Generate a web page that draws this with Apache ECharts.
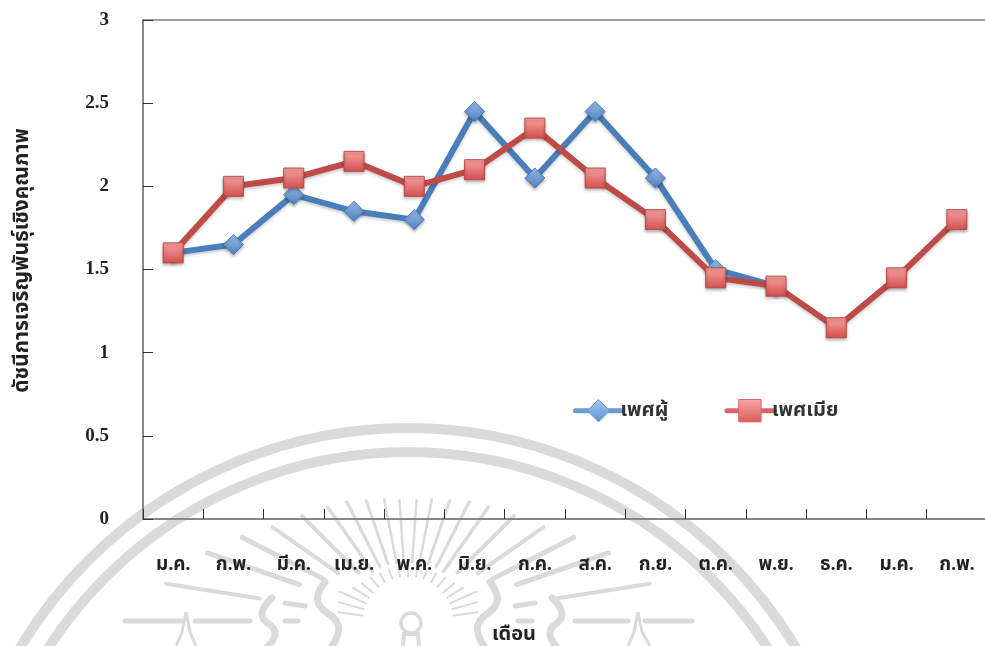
<!DOCTYPE html>
<html><head><meta charset="utf-8">
<style>html,body{margin:0;padding:0;background:#fff}#c{width:985px;height:646px}</style>
<script src="https://cdn.jsdelivr.net/npm/echarts@6/dist/echarts.min.js"></script>
</head><body><div id="c"></div>
<script>
const categories = ['ม.ค.','ก.พ.','มี.ค.','เม.ย.','พ.ค.','มิ.ย.','ก.ค.','ส.ค.','ก.ย.','ต.ค.','พ.ย.','ธ.ค.','ม.ค.','ก.พ.'];
const maleValues = [1.6,1.65,1.95,1.85,1.8,2.45,2.05,2.45,2.05,1.5,1.4,null,null,null];
const femaleValues = [1.6,2.0,2.05,2.15,2.0,2.1,2.35,2.05,1.8,1.45,1.4,1.15,1.45,1.8];
const maleName = 'เพศผู้';
const femaleName = 'เพศเมีย';
const xTitle = 'เดือน';
const yTitle = 'ดัชนีการเจริญพันธุ์เชิงคุณภาพ';

const FONT = '"Liberation Serif","Noto Sans Thai","Noto Serif Thai",serif';
const WM = '#dadada';
const G = echarts.graphic;

// Decorative seal watermark behind the chart
const wm = [];
const CX = 408, CY = 880;
[[452,10],[428,10]].forEach(([r,w]) => wm.push({type:'circle',silent:true,z:-1,
  shape:{cx:CX,cy:CY,r},style:{fill:'none',stroke:WM,lineWidth:w}}));
const SX = 408, SY = 622;
function ray(deg, r0, r1, w){
  const a = deg*Math.PI/180;
  wm.push({type:'line',silent:true,z:-1,
    shape:{x1:SX+r0*Math.cos(a),y1:SY-r0*Math.sin(a),x2:SX+r1*Math.cos(a),y2:SY-r1*Math.sin(a)},
    style:{stroke:WM,lineWidth:w,lineCap:'round'}});
}
[[9,150,245,4],[19,115,212,5],[27,95,186,5],[35,85,165,4],[45,70,150,4],[55,62,140,3.5],[63,62,135,3],[71,62,128,3],[79,60,125,2.5],[86,60,122,2.5]].forEach(([d,a,b,w])=>{
  ray(d,a,b,w); ray(180-d,a,b,w);
});
[[8,46,70],[16,46,72],[24,46,75],[32,46,65],[40,46,60],[50,46,58],[60,46,56],[70,46,56],[80,46,56],[90,46,56]].forEach(([d,a,b])=>{
  ray(d,a,b,2); ray(180-d,a,b,2);
});
wm.push({type:'circle',silent:true,z:-1,shape:{cx:411,cy:623,r:10},style:{fill:'none',stroke:WM,lineWidth:3.5}});
wm.push({type:'polyline',silent:true,z:-1,shape:{points:[[403,646],[404,634],[418,634],[419,646]]},style:{fill:'none',stroke:WM,lineWidth:4}});
[[[125,621],[182,621]],[[195,621],[250,621]],[[285,621],[298,621]],[[575,621],[628,621]],[[645,621],[692,621]],[[518,621],[532,621]],[[285,603],[305,606]],[[515,606],[535,603]]].forEach(p=>{
  wm.push({type:'polyline',silent:true,z:-1,shape:{points:p},style:{fill:'none',stroke:WM,lineWidth:5,lineCap:'round'}});
});
[[[186,612],[182,632],[176,646]],[[186,612],[190,632],[196,646]],[[638,612],[634,632],[628,646]],[[638,612],[642,632],[650,646]]].forEach(p=>{
  wm.push({type:'polyline',silent:true,z:-1,shape:{points:p},style:{fill:'none',stroke:WM,lineWidth:3}});
});
[[[272,598],[262,615],[275,632],[268,646]],[[325,582],[318,602],[338,625],[332,646]],[[490,582],[497,602],[478,625],[484,646]],[[552,598],[562,615],[550,632],[556,646]]].forEach(p=>{
  wm.push({type:'polyline',silent:true,z:-1,shape:{points:p,smooth:0.5},style:{fill:'none',stroke:WM,lineWidth:7,lineCap:'round'}});
});

const grad = (a,b) => new G.LinearGradient(0,0,0,1,[{offset:0,color:a},{offset:1,color:b}]);
const chart = echarts.init(document.getElementById('c'),null,{renderer:'canvas'});
chart.setOption({
  animation:false,
  backgroundColor:'#fff',
  graphic:{elements:wm},
  grid:{left:143,right:-2,top:20,bottom:127,outerBoundsMode:'none',show:true,borderColor:'#808080',borderWidth:1.5,backgroundColor:'transparent'},
  legend:{
    left:568,top:394,itemWidth:46,itemHeight:28,itemGap:56,
    textStyle:{fontFamily:FONT,fontWeight:'bold',fontSize:20,color:'#333',padding:[0,0,0,-6]},
    data:[
      {name:maleName,lineStyle:{color:'#6A9AD0',width:5,cap:'round'},itemStyle:{color:grad('#A6C8F2','#5C90D0'),borderColor:'#6A9AD0',borderWidth:1}},
      {name:femaleName,lineStyle:{color:'#D46A68',width:5,cap:'round'},itemStyle:{color:grad('#F9A8A6','#D85C5A'),borderColor:'#D46A68',borderWidth:1}}
    ]
  },
  xAxis:{
    type:'category',data:categories,
    name:xTitle,nameLocation:'middle',nameGap:106,
    nameTextStyle:{fontFamily:FONT,fontWeight:'bold',fontSize:20,color:'#222',padding:[0,102,0,0]},
    axisLine:{lineStyle:{color:'#808080',width:1.5}},
    axisTick:{show:true,inside:true,length:10,lineStyle:{color:'#333',width:1}},
    axisLabel:{fontFamily:FONT,fontWeight:'bold',fontSize:19,color:'#222',margin:37,interval:0},
    splitLine:{show:false}
  },
  yAxis:{
    type:'value',min:0,max:3,interval:0.5,
    name:yTitle,nameLocation:'middle',nameGap:110,nameRotate:90,
    nameTextStyle:{fontFamily:FONT,fontWeight:'bold',fontSize:21,color:'#222',padding:[0,0,0,18]},
    axisLine:{show:true,lineStyle:{color:'#808080',width:1.5}},
    axisTick:{show:true,inside:true,length:10,lineStyle:{color:'#333',width:1}},
    axisLabel:{fontFamily:FONT,fontWeight:'bold',fontSize:19,color:'#222',margin:34},
    splitLine:{show:false}
  },
  series:[
    {name:maleName,type:'line',data:maleValues,symbol:'diamond',symbolSize:20,z:2,
      lineStyle:{color:'#4A7EBB',width:6,shadowColor:'rgba(0,0,0,0.2)',shadowBlur:3,shadowOffsetY:2},
      itemStyle:{color:grad('#9CC0EE','#4A7EBB'),borderColor:'#4A7EBB',borderWidth:1,shadowColor:'rgba(0,0,0,0.3)',shadowBlur:3,shadowOffsetY:2}},
    {name:femaleName,type:'line',data:femaleValues,symbol:'rect',symbolSize:20,z:3,
      lineStyle:{color:'#BE4B48',width:6,shadowColor:'rgba(0,0,0,0.2)',shadowBlur:3,shadowOffsetY:2},
      itemStyle:{color:grad('#F9A3A1','#D2504E'),borderColor:'#BE4B48',borderWidth:1,shadowColor:'rgba(0,0,0,0.3)',shadowBlur:3,shadowOffsetY:2}}
  ]
});
</script></body></html>
